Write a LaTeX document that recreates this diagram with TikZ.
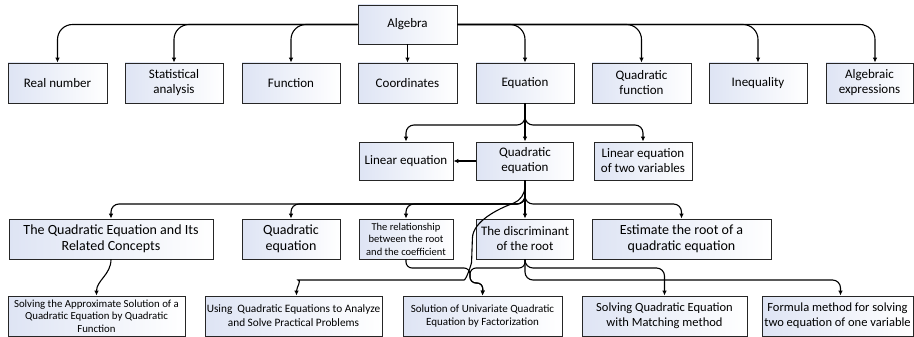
\documentclass[tikz,border=0pt]{standalone}
\usepackage{fontspec}
\setmainfont{Carlito}
\usetikzlibrary{arrows.meta}
\definecolor{boxblue}{RGB}{222,228,244}
\tikzset{
  box/.style={draw=black!85, line width=0.8pt, left color=boxblue, right color=white,
    align=center, inner sep=1pt, minimum height=40, font=\fontsize{13}{15}\selectfont},
  link/.style={line width=1.1pt, -{Latex[length=5pt,width=4.5pt]}, rounded corners=12pt},
}

\begin{document}
\begin{tikzpicture}[x=1pt,y=-1pt]
\useasboundingbox (0,0) rectangle (914,337);
% top
\node [box, minimum width=99, minimum height=39] (alg) at (407.5,24.5) {Algebra};
% second row
\node [box, minimum width=99] (rn) at (57.5,83) {Real number};
\node [box, minimum width=98] (sa) at (174,83) {Statistical\\analysis};
\node [box, minimum width=98] (fn) at (291,83) {Function};
\node [box, minimum width=99] (co) at (407.5,83) {Coordinates};
\node [box, minimum width=98] (eq) at (525,83) {Equation};
\node [box, minimum width=99] (qf) at (641.5,83) {Quadratic\\function};
\node [box, minimum width=98] (in) at (758,83) {Inequality};
\node [box, minimum width=87] (ae) at (869.5,83) {Algebraic\\expressions};
% third row
\node [box, minimum width=94, minimum height=38] (le) at (406,161) {Linear equation};
\node [box, minimum width=97, minimum height=38] (qe) at (525,161) {Quadratic\\equation};
\node [box, minimum width=98, minimum height=38] (ltv) at (643,161) {Linear equation\\of two variables};
% fourth row
\node [box, minimum width=204, font=\fontsize{14}{16}\selectfont] (tq) at (111,239) {The Quadratic Equation and Its\\Related Concepts};
\node [box, minimum width=98, font=\fontsize{14}{16}\selectfont] (qe2) at (291,239) {Quadratic\\equation};
\node [box, minimum width=94, font=\fontsize{10.5}{12.5}\selectfont] (rel) at (406,239) {The relationship\\between the root\\and the coefficient};
\node [box, minimum width=97] (disc) at (525,239) {The discriminant\\of the root};
\node [box, minimum width=179, font=\fontsize{14}{16}\selectfont] (est) at (681.5,239) {Estimate the root of a\\quadratic equation};
% bottom row
\node [box, minimum width=177, font=\fontsize{10.8}{12.5}\selectfont] (apx) at (96.5,316) {Solving the Approximate Solution of a\\Quadratic Equation by Quadratic\\Function};
\node [box, minimum width=177, font=\fontsize{11.3}{14}\selectfont] (use) at (293.5,316) {Using\ \ Quadratic Equations to Analyze\\and Solve Practical Problems};
\node [box, minimum width=159, font=\fontsize{11}{13.5}\selectfont] (uni) at (482.5,316) {Solution of Univariate Quadratic\\Equation by Factorization};
\node [box, minimum width=165, font=\fontsize{12.5}{15}\selectfont] (mat) at (664.5,316) {Solving Quadratic Equation\\with Matching method};
\node [box, minimum width=151, font=\fontsize{12.5}{15}\selectfont] (fml) at (837.5,316) {Formula method for solving\\two equation of one variable};

% algebra to second row
\draw [link, rounded corners=15pt] (alg.west) -| (rn.north);
\draw [link, rounded corners=15pt] (alg.west) -| (sa.north);
\draw [link, rounded corners=15pt] (alg.west) -| (fn.north);
\draw [link] (alg.south) -- (co.north);
\draw [link, rounded corners=15pt] (alg.east) -| (eq.north);
\draw [link, rounded corners=15pt] (alg.east) -| (qf.north);
\draw [link, rounded corners=15pt] (alg.east) -| (in.north);
\draw [link, rounded corners=15pt] (alg.east) -| ([xshift=5.5]ae.north);
% equation
\draw [link, rounded corners=8pt] (eq.south) -- (525,125) -| (le.north);
\draw [link, rounded corners=8pt] (eq.south) -- (525,125) -| (ltv.north);
\draw [link] (eq.south) -- (qe.north);
\draw [link] (qe.west) -- (le.east);
% quadratic equation
\draw [link, rounded corners=8pt] (qe.south) -- (525,204) -| (tq.north);
\draw [link, rounded corners=8pt] (qe.south) -- (525,204) -| (qe2.north);
\draw [link, rounded corners=8pt] (qe.south) -- (525,204) -| (rel.north);
\draw [link, rounded corners=8pt] (qe.south) -- (525,204) -| (est.north);
\draw [link] (qe.south) -- (disc.north);
\draw [link] (qe.south) -- (525,199) to[out=200,in=88] (472,250)
  to[out=-92,in=0] (452,280) -- (310,280) to[out=180,in=90] ([xshift=3]use.north);
% lower part
\draw [link] (tq.south) to[out=-90,in=90] (apx.north);
\draw [link, rounded corners=6pt] (rel.south) |- (470,268) |- (483,283) -- (uni.north);
\draw [link, rounded corners=6pt] (disc.south) |- (470,268) |- (483,283) -- (uni.north);
\draw [link, rounded corners=8pt] (disc.south) -- (525,268) -| (mat.north);
\draw [link, rounded corners=8pt] (disc.south) -- (525,280) -| ([xshift=3]fml.north);
\end{tikzpicture}
\end{document}
